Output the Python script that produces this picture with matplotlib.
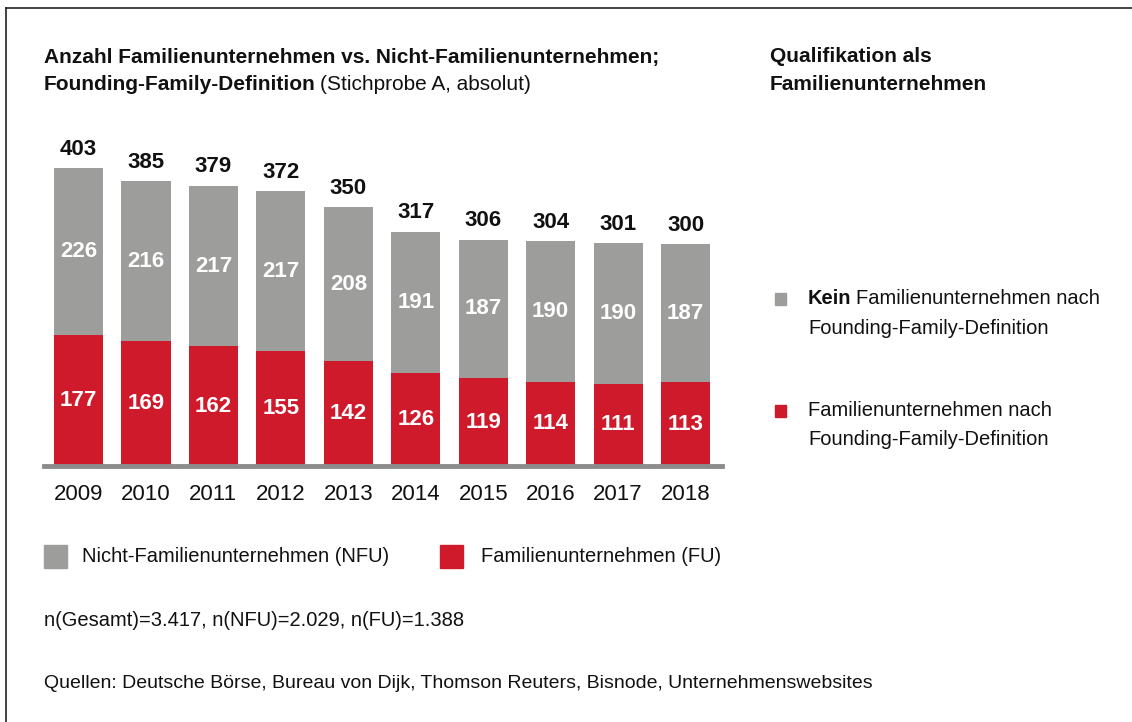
import matplotlib
matplotlib.use("Agg")
import matplotlib.pyplot as plt
from matplotlib.patches import Rectangle
from matplotlib.lines import Line2D

plt.rcParams['font.family'] = ['Liberation Sans', 'DejaVu Sans']

years = ['2009', '2010', '2011', '2012', '2013', '2014', '2015', '2016', '2017', '2018']
fu = [177, 169, 162, 155, 142, 126, 119, 114, 111, 113]
nfu = [226, 216, 217, 217, 208, 191, 187, 190, 190, 187]
totals = [403, 385, 379, 372, 350, 317, 306, 304, 301, 300]

GRAY = '#9d9d9c'
RED = '#cf1a2c'
W, H = 1132, 722

fig = plt.figure(figsize=(W / 100, H / 100), dpi=100)


def px(x, y):
    return x / W, 1 - y / H


def text(x, y, s, **kw):
    kw.setdefault('fontsize', 14.5)
    kw.setdefault('va', 'center')
    return fig.text(*px(x, y), s, color=kw.pop('color', '#111111'), **kw)


# frame (top and left edge only)
fig.add_artist(Line2D([6 / W, 1], [1 - 8 / H, 1 - 8 / H], color='#222222', lw=1.2, transform=fig.transFigure))
fig.add_artist(Line2D([6 / W, 6 / W], [0, 1 - 8 / H], color='#222222', lw=1.2, transform=fig.transFigure))

# bar chart
ax = fig.add_axes([44 / W, 256 / H, 678 / W, 346 / H])
x = list(range(len(years)))
ax.bar(x, fu, width=0.727, color=RED)
ax.bar(x, nfu, bottom=fu, width=0.727, color=GRAY)
ax.set_xlim(-0.512, 9.54)
ax.set_ylim(0, 468)
for s in ax.spines.values():
    s.set_visible(False)
ax.axhline(0, color='#8c8c8c', lw=3.5, clip_on=False)
ax.set_yticks([])
ax.set_xticks(x)
ax.set_xticklabels(years, fontsize=16, color='#111111')
ax.tick_params(axis='x', length=0, pad=13)

for i in x:
    ax.text(i, fu[i] / 2, str(fu[i]), ha='center', va='center', color='white', fontsize=16, fontweight='bold')
    ax.text(i, fu[i] + nfu[i] / 2, str(nfu[i]), ha='center', va='center', color='white', fontsize=16, fontweight='bold')
    ax.annotate(str(totals[i]), (i, totals[i]), xytext=(0, 6), textcoords='offset points',
                ha='center', va='bottom', fontsize=16, fontweight='bold', color='#111111')

renderer = fig.canvas.get_renderer()

# title
text(44, 57, 'Anzahl Familienunternehmen vs. Nicht-Familienunternehmen;', fontweight='bold', fontsize=15)
t = text(44, 85, 'Founding-Family-Definition', fontweight='bold', fontsize=15)
bb = t.get_window_extent(renderer)
text(44 + bb.width + 4, 85, '(Stichprobe A, absolut)', fontsize=15)

# right side legend
text(770, 57, 'Qualifikation als', fontweight='bold', fontsize=15)
text(770, 85, 'Familienunternehmen', fontweight='bold', fontsize=15)

for ypos, col in [(299, GRAY), (411, RED)]:
    fig.add_artist(Rectangle(px(775, ypos + 6), 11 / W, 12 / H, color=col, transform=fig.transFigure))

k = text(808, 299, 'Kein', fontweight='bold')
bb = k.get_window_extent(renderer)
text(808 + bb.width + 4, 299, 'Familienunternehmen nach')
text(808, 328, 'Founding-Family-Definition')
text(808, 411, 'Familienunternehmen nach')
text(808, 440, 'Founding-Family-Definition')

# bottom legend
fig.add_artist(Rectangle(px(44, 568), 23 / W, 23 / H, color=GRAY, transform=fig.transFigure))
text(82, 556, 'Nicht-Familienunternehmen (NFU)')
fig.add_artist(Rectangle(px(440, 568), 23 / W, 23 / H, color=RED, transform=fig.transFigure))
text(481, 556, 'Familienunternehmen (FU)')

text(44, 620, 'n(Gesamt)=3.417, n(NFU)=2.029, n(FU)=1.388')
text(44, 684, 'Quellen: Deutsche Börse, Bureau von Dijk, Thomson Reuters, Bisnode, Unternehmenswebsites', fontsize=14)

fig.savefig('out.png', dpi=100)
